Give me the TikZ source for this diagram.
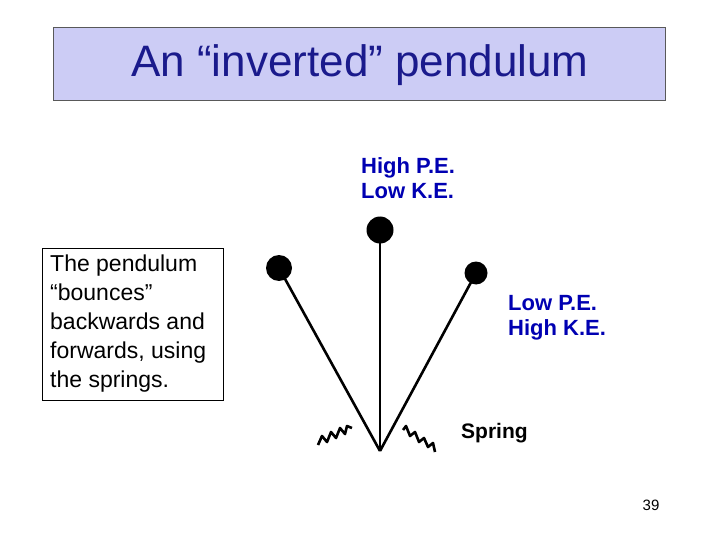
\documentclass[tikz,border=0pt]{standalone}
\usepackage{fontspec}
\setmainfont{Liberation Sans}
\begin{document}
\begin{tikzpicture}[x=1pt,y=-1pt,
  rod/.style={line width=2.6pt},
  ball/.style={circle,fill=black,inner sep=0pt},
  lbl/.style={text=blue!70!black,font=\bfseries\fontsize{22}{25}\selectfont,align=left,anchor=west,inner sep=0pt},
  spr/.style={line width=2.6pt,line join=round}]
\useasboundingbox (0,0) rectangle (720,540);
\node[draw=gray!70!black,fill={rgb,255:red,204;green,204;blue,245},minimum width=612pt,minimum height=73pt,anchor=north west,inner sep=0pt] (title) at (53,27) {};
\node[text={rgb,255:red,26;green,26;blue,140},font=\fontsize{44}{50}\selectfont] (tt) at (360,65) {An “inverted” pendulum};
\node[draw=black,anchor=north west,minimum width=181pt,minimum height=152pt,inner sep=0pt] (box) at (42,248) {};
\node[anchor=north west,align=left,font=\fontsize{23}{29}\selectfont,inner sep=0pt] (bt) at (50,255) {The pendulum\\“bounces”\\backwards and\\forwards, using\\the springs.};
\coordinate (piv) at (380,451);
\node[ball,minimum size=27pt] (b1) at (380,230) {};
\node[ball,minimum size=26pt] (b2) at (279,268) {};
\node[ball,minimum size=23pt] (b3) at (476,273) {};
\draw[rod] (piv) -- (b1.center);
\draw[rod] (piv) -- (b2.center);
\draw[rod] (piv) -- (b3.center);
\draw[spr] (318,445) -- (322,436) -- (327,442) -- (331,432) -- (336,438) -- (340,428) -- (345,434) -- (347,426) -- (352,428);
\draw[spr] (403,430) -- (406,426) -- (410,436) -- (415,432) -- (419,442) -- (424,438) -- (428,447) -- (433,443) -- (435,452);
\node[lbl] (hp) at (361,178) {High P.E.\\Low K.E.};
\node[lbl] (lp) at (508,318) {Low P.E.\\High K.E.};
\node[anchor=west,font=\bfseries\fontsize{21}{25}\selectfont,inner sep=0pt] (sp) at (461,433) {Spring};
\node[font=\fontsize{15}{17}\selectfont] (pg) at (651,505) {39};
\end{tikzpicture}
\end{document}
